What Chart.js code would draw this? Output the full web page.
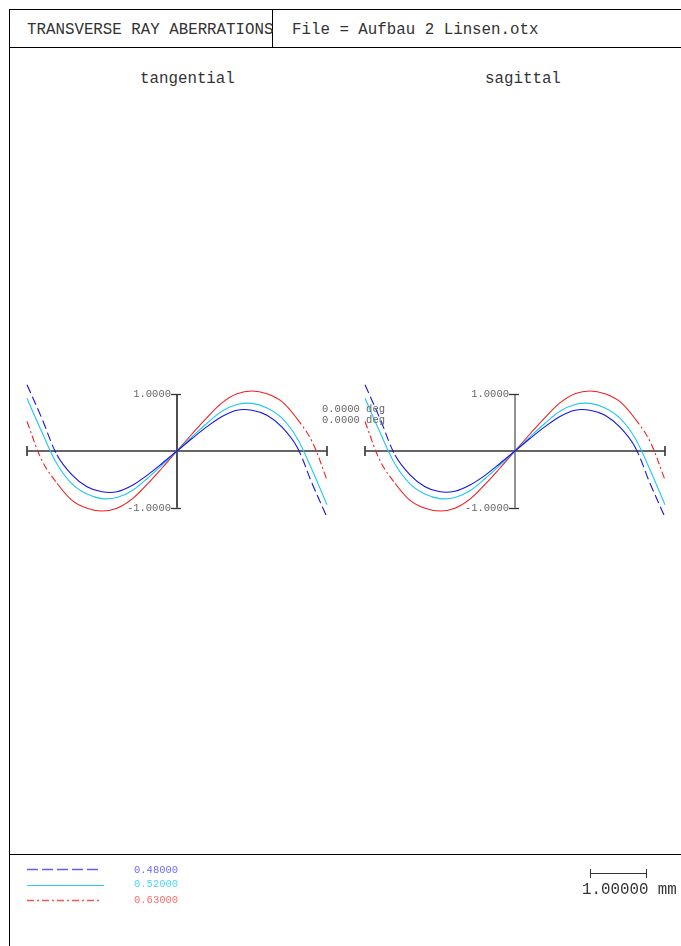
<!DOCTYPE html>
<html>
<head>
<meta charset="utf-8">
<script src="https://cdn.jsdelivr.net/npm/chart.js@4"></script>
<style>
  html, body { margin: 0; padding: 0; background: #fff; }
  body { width: 681px; height: 946px; position: relative; overflow: hidden; font-family: "Liberation Mono", "DejaVu Sans Mono", monospace; }
  .ln { position: absolute; background: #000; }
  .txt { position: absolute; white-space: pre; line-height: 1; color: #333; }
  canvas { position: absolute; }
  svg { position: absolute; left: 0; top: 0; }
</style>
</head>
<body>
<!-- frame -->
<div class="ln" style="left:9px;top:9px;width:672px;height:1px"></div>
<div class="ln" style="left:9px;top:9px;width:1px;height:937px"></div>
<div class="ln" style="left:9px;top:47px;width:672px;height:1px"></div>
<div class="ln" style="left:272px;top:9px;width:1px;height:38px"></div>
<div class="ln" style="left:9px;top:854px;width:672px;height:1px"></div>

<div class="txt" style="left:27px;top:23px;font-size:15.8px">TRANSVERSE RAY ABERRATIONS</div>
<div class="txt" style="left:292px;top:23px;font-size:15.8px">File = Aufbau 2 Linsen.otx</div>
<div class="txt" style="left:140px;top:72px;font-size:15.8px">tangential</div>
<div class="txt" style="left:485px;top:72px;font-size:15.8px">sagittal</div>

<canvas id="tan" width="320" height="190" style="left:17px;top:356px"></canvas>
<canvas id="sag" width="320" height="190" style="left:355px;top:356px"></canvas>

<div class="txt" style="left:322px;top:404px;font-size:10.5px;color:#666;z-index:5">0.0000 deg</div>
<div class="txt" style="left:322px;top:415px;font-size:10.5px;color:#666;z-index:5">0.0000 deg</div>

<!-- legend -->
<svg width="681" height="946">
  <line x1="27" y1="869.5" x2="100" y2="869.5" stroke="#6060f0" stroke-width="1.6" stroke-dasharray="11 4"/>
  <line x1="27" y1="885.5" x2="104" y2="885.5" stroke="#30c8f0" stroke-width="1"/>
  <line x1="27" y1="900.5" x2="100" y2="900.5" stroke="#ff5050" stroke-width="1.6" stroke-dasharray="7 3 2 3"/>
  <line x1="590" y1="873.5" x2="646" y2="873.5" stroke="#333" stroke-width="1"/>
  <line x1="590.5" y1="869" x2="590.5" y2="878" stroke="#333" stroke-width="1"/>
  <line x1="646.5" y1="869" x2="646.5" y2="878" stroke="#333" stroke-width="1"/>
</svg>
<div class="txt" style="left:134px;top:865px;font-size:10.5px;color:#6c6cff">0.48000</div>
<div class="txt" style="left:134px;top:879px;font-size:10.5px;color:#50d4ff">0.52000</div>
<div class="txt" style="left:134px;top:895px;font-size:10.5px;color:#ff6c6c">0.63000</div>
<div class="txt" style="left:582px;top:883px;font-size:15.8px">1.00000 mm</div>

<script>
// relative pupil coordinate
const pupil = [-1, -0.9, -0.8, -0.7, -0.6, -0.5, -0.4, -0.3, -0.2, -0.1, 0,
               0.1, 0.2, 0.3, 0.4, 0.5, 0.6, 0.7, 0.8, 0.9, 1];

// tangential ray errors (mm), per wavelength
const tanBlue = [1.17, 0.57, -0.07, -0.42, -0.63, -0.72, -0.72, -0.61, -0.43, -0.22, 0,
                 0.22, 0.43, 0.61, 0.72, 0.72, 0.63, 0.42, 0.07, -0.57, -1.17];
const tanCyan = [0.93, 0.33, -0.23, -0.58, -0.76, -0.84, -0.82, -0.70, -0.49, -0.25, 0,
                 0.25, 0.49, 0.70, 0.82, 0.84, 0.76, 0.58, 0.23, -0.33, -0.95];
const tanRed  = [0.52, -0.17, -0.57, -0.87, -1.01, -1.06, -1.01, -0.85, -0.59, -0.30, 0,
                 0.30, 0.59, 0.85, 1.01, 1.06, 1.01, 0.87, 0.57, 0.17, -0.51];

// sagittal
const sagBlue = [1.17, 0.57, -0.07, -0.42, -0.63, -0.72, -0.71, -0.60, -0.43, -0.22, 0,
                 0.22, 0.43, 0.61, 0.72, 0.72, 0.63, 0.42, 0.07, -0.57, -1.17];
const sagCyan = [0.93, 0.33, -0.23, -0.58, -0.76, -0.84, -0.82, -0.70, -0.49, -0.25, 0,
                 0.25, 0.49, 0.70, 0.82, 0.84, 0.76, 0.58, 0.23, -0.33, -0.95];
const sagRed  = [0.52, -0.17, -0.57, -0.87, -1.01, -1.06, -1.01, -0.85, -0.59, -0.30, 0,
                 0.30, 0.59, 0.85, 1.01, 1.06, 1.01, 0.87, 0.57, 0.17, -0.51];

const yTicks = [1, -1];
const yTickLabels = ["1.0000", "-1.0000"];

function pts(ys) {
  return pupil.map((p, i) => ({ x: p, y: ys[i] }));
}

// dashes only show on the long outer segments
function outerDash(dash) {
  return ctx => {
    const a = Math.abs(ctx.p0.parsed.x), b = Math.abs(ctx.p1.parsed.x);
    return Math.min(a, b) >= 0.75 ? dash : [];
  };
}

function ds(ys, color, dash) {
  return {
    data: pts(ys),
    borderColor: color,
    borderWidth: 1.1,
    pointRadius: 0,
    tension: 0.35,
    clip: false,
    segment: dash ? { borderDash: outerDash(dash) } : undefined
  };
}

function axesPlugin(vColor) {
  return {
    id: 'crossAxes',
    beforeDatasetsDraw(chart) {
      const c = chart.ctx, xs = chart.scales.x, ys = chart.scales.y;
      const x0 = Math.round(xs.getPixelForValue(0));
      const y0 = Math.round(ys.getPixelForValue(0));
      const xl = xs.getPixelForValue(-1), xr = xs.getPixelForValue(1);
      c.save();
      c.lineWidth = 1.6;
      c.strokeStyle = '#333';
      c.beginPath();
      c.moveTo(xl, y0); c.lineTo(xr, y0);
      c.moveTo(xl, y0 - 5); c.lineTo(xl, y0 + 5);
      c.moveTo(xr, y0 - 5); c.lineTo(xr, y0 + 5);
      c.stroke();
      c.strokeStyle = vColor;
      c.beginPath();
      const yt = ys.getPixelForValue(1), yb = ys.getPixelForValue(-1);
      c.moveTo(x0, yt); c.lineTo(x0, yb);
      c.stroke();
      c.strokeStyle = '#333';
      c.lineWidth = 1.3;
      c.font = '10.5px "Liberation Mono", monospace';
      c.fillStyle = '#666';
      c.textAlign = 'right';
      c.textBaseline = 'middle';
      yTicks.forEach((v, i) => {
        const py = Math.round(ys.getPixelForValue(v)) + 0.5;
        c.beginPath();
        c.moveTo(x0 - 6, py); c.lineTo(x0 + 4, py);
        c.stroke();
        c.fillText(yTickLabels[i], x0 - 6, py);
      });
      c.restore();
    }
  };
}

function makeChart(id, blue, cyan, red, vColor) {
  return new Chart(document.getElementById(id), {
    type: 'line',
    data: {
      datasets: [
        ds(blue, '#1414e6', [9, 4]),
        ds(cyan, '#1ec8f0', null),
        ds(red, '#f02020', [7, 3, 2, 3])
      ]
    },
    options: {
      responsive: false,
      animation: false,
      layout: { padding: 10 },
      plugins: { legend: { display: false }, tooltip: { enabled: false } },
      scales: {
        x: { type: 'linear', min: -1, max: 1, display: false },
        y: { type: 'linear', min: -1.5, max: 1.5, display: false }
      }
    },
    plugins: [axesPlugin(vColor)]
  });
}

makeChart('tan', tanBlue, tanCyan, tanRed, '#222');
makeChart('sag', sagBlue, sagCyan, sagRed, '#777');
</script>
</body>
</html>
